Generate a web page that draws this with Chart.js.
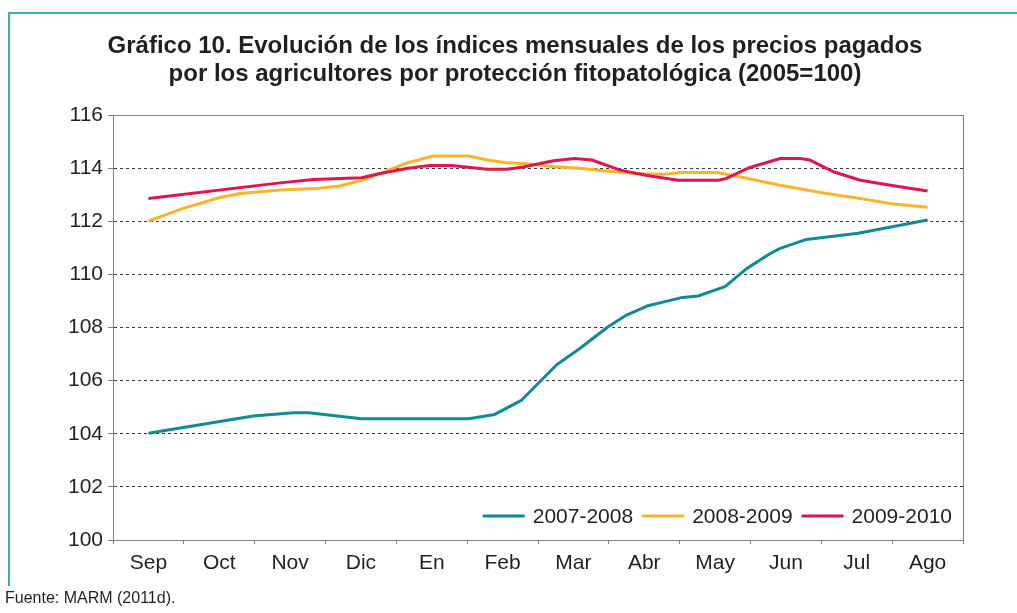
<!DOCTYPE html>
<html>
<head>
<meta charset="utf-8">
<script src="https://cdn.jsdelivr.net/npm/chart.js@4.4.1/dist/chart.umd.min.js"></script>
<style>
  html, body { margin: 0; padding: 0; background: #ffffff; }
  body { width: 1017px; height: 613px; position: relative; overflow: hidden; font-family: "Liberation Sans", Arial, sans-serif; }
  #frame { position: absolute; left: 8px; top: 12px; width: 1020px; height: 572px; border-top: 2px solid #3aaeb0; border-left: 2px solid #3aaeb0; }
  #wrap { position: absolute; left: 0; top: 0; width: 1017px; height: 613px; }
  #source { position: absolute; left: 5px; top: 589px; font-size: 16px; color: #231f20; font-family: "Liberation Sans", Arial, sans-serif; }
</style>
</head>
<body>
<div id="frame"></div>
<div id="wrap"><canvas id="c"></canvas></div>
<div id="source">Fuente: MARM (2011d).</div>
<script>
// ---- Data (x = position in months from Sep = 0) ----
const months = ['Sep', 'Oct', 'Nov', 'Dic', 'En', 'Feb', 'Mar', 'Abr', 'May', 'Jun', 'Jul', 'Ago'];
const seriesNames = ['2007-2008', '2008-2009', '2009-2010'];
const titleLines = ['Gráfico 10. Evolución de los índices mensuales de los precios pagados',
                    'por los agricultores por protección fitopatológica (2005=100)'];

const pos0708 = [0, 1.48, 2.05, 2.26, 3.01, 4.52, 4.89, 5.27, 5.76, 6.09, 6.49, 6.75, 7.04, 7.51, 7.76, 8.14, 8.45, 8.78, 8.92, 9.29, 10.02, 11];
const val0708 = [104.02, 104.67, 104.79, 104.79, 104.57, 104.57, 104.73, 105.27, 106.59, 107.21, 108.03, 108.47, 108.81, 109.12, 109.19, 109.54, 110.23, 110.79, 110.98, 111.32, 111.55, 112.05];

const pos0809 = [0, 0.49, 1.01, 1.29, 1.86, 2.38, 2.7, 2.99, 3.27, 3.65, 4.02, 4.52, 4.78, 5.06, 5.39, 5.72, 6.05, 6.47, 6.85, 7.27, 7.51, 8.02, 8.31, 8.92, 9.53, 10.05, 10.52, 11];
const val0809 = [112.01, 112.49, 112.9, 113.05, 113.18, 113.24, 113.33, 113.53, 113.8, 114.2, 114.46, 114.46, 114.31, 114.21, 114.16, 114.06, 114.01, 113.9, 113.8, 113.77, 113.84, 113.84, 113.7, 113.36, 113.07, 112.86, 112.65, 112.53];

const pos0910 = [0, 1.86, 2.33, 3.01, 3.27, 3.65, 3.88, 3.98, 4.28, 4.78, 5.06, 5.29, 5.72, 6.02, 6.26, 6.66, 7.04, 7.48, 8.05, 8.16, 8.49, 8.92, 9.2, 9.34, 9.67, 10.05, 10.52, 11];
const val0910 = [112.86, 113.45, 113.58, 113.64, 113.8, 113.99, 114.08, 114.1, 114.1, 113.96, 113.96, 114.05, 114.28, 114.37, 114.31, 113.93, 113.73, 113.55, 113.55, 113.62, 114.03, 114.37, 114.37, 114.31, 113.87, 113.55, 113.34, 113.14];

const yMin = 100, yMax = 116, yStep = 2;
const colors = ['#0e8c95', '#fbb42a', '#e0154d'];

function pts(xs, ys) { return xs.map((x, i) => ({ x: x, y: ys[i] })); }

const textColor = '#231f20';
const fontFam = '"Liberation Sans", Arial, sans-serif';

const legendPlugin = {
  id: 'inlineLegend',
  afterDatasetsDraw(chart) {
    const ctx = chart.ctx, a = chart.chartArea;
    ctx.save();
    ctx.font = '21px ' + fontFam;
    const lineLen = 42, gap1 = 8, gap2 = 9;
    const widths = seriesNames.map(n => ctx.measureText(n).width);
    let total = 0;
    widths.forEach((w, i) => { total += lineLen + gap1 + w + (i < widths.length - 1 ? gap2 : 0); });
    let x = a.right - 11 - total;
    const y = a.bottom - 24;
    ctx.textBaseline = 'middle';
    ctx.textAlign = 'left';
    seriesNames.forEach((n, i) => {
      ctx.strokeStyle = colors[i];
      ctx.lineWidth = 3;
      ctx.beginPath();
      ctx.moveTo(x, y);
      ctx.lineTo(x + lineLen, y);
      ctx.stroke();
      ctx.fillStyle = textColor;
      ctx.fillText(n, x + lineLen + gap1, y + 1);
      x += lineLen + gap1 + widths[i] + gap2;
    });
    ctx.restore();
  }
};

const framePlugin = {
  id: 'plotFrame',
  beforeDatasetsDraw(chart) {
    const ctx = chart.ctx, a = chart.chartArea;
    ctx.save();
    ctx.strokeStyle = '#808080';
    ctx.lineWidth = 1;
    ctx.setLineDash([]);
    ctx.strokeRect(Math.round(a.left) + 0.5, Math.round(a.top) + 0.5, Math.round(a.right - a.left), Math.round(a.bottom - a.top));
    ctx.restore();
  }
};

new Chart(document.getElementById('c'), {
  type: 'line',
  data: {
    datasets: [
      { label: seriesNames[0], data: pts(pos0708, val0708), borderColor: colors[0], order: 2 },
      { label: seriesNames[1], data: pts(pos0809, val0809), borderColor: colors[1], order: 1 },
      { label: seriesNames[2], data: pts(pos0910, val0910), borderColor: colors[2], order: 0 }
    ]
  },
  options: {
    responsive: true,
    maintainAspectRatio: false,
    animation: false,
    devicePixelRatio: 1,
    layout: { padding: { left: 67, right: 54, top: 0, bottom: 33 } },
    elements: {
      line: { borderWidth: 3, tension: 0, borderJoinStyle: 'round', fill: false },
      point: { radius: 0, hoverRadius: 0 }
    },
    plugins: {
      legend: { display: false },
      tooltip: { enabled: false },
      title: {
        display: true,
        text: titleLines,
        color: textColor,
        font: { family: fontFam, size: 24, weight: 'bold', lineHeight: 1.17 },
        padding: { top: 32, bottom: 27 }
      }
    },
    scales: {
      x: {
        type: 'linear',
        min: -0.5,
        max: 11.5,
        afterFit(scale) { scale.height = 40; },
        ticks: {
          stepSize: 0.5,
          autoSkip: false,
          maxRotation: 0,
          padding: 7,
          color: textColor,
          font: { family: fontFam, size: 21 },
          callback: (v) => Number.isInteger(v) ? months[v] : ''
        },
        grid: {
          drawOnChartArea: false,
          tickLength: 4,
          color: (c) => (c.tick && Number.isInteger(c.tick.value)) ? 'rgba(0,0,0,0)' : '#808080'
        },
        border: { display: true, color: '#808080', width: 1 }
      },
      y: {
        min: yMin,
        max: yMax,
        afterFit(scale) { scale.width = 46; },
        ticks: {
          stepSize: yStep,
          padding: 5,
          color: textColor,
          font: { family: fontFam, size: 21 }
        },
        grid: {
          color: '#3a3a3a',
          lineWidth: 1,
          tickLength: 5,
          tickColor: '#808080',
          tickBorderDash: []
        },
        border: { display: true, color: '#808080', width: 1, dash: [3, 3] }
      }
    }
  },
  plugins: [framePlugin, legendPlugin]
});
</script>
</body>
</html>
